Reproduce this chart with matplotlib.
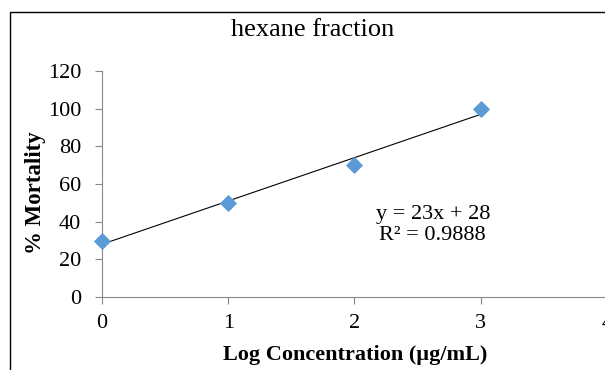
import matplotlib.pyplot as plt
from matplotlib.patches import Rectangle
import numpy as np

# data
log_conc = [0, 1, 2, 3]
mortality = [30, 50, 70, 100]
slope, intercept = 23, 28
r_squared = 0.9888

plt.rcParams['font.family'] = ['Liberation Serif', 'DejaVu Serif']

fig = plt.figure(figsize=(6.05, 3.70), dpi=100)
ax = fig.add_axes([102 / 605, 1 - 297 / 370, 505 / 605, (297 - 71) / 370])

# outer chart border (right/bottom run off the image)
fig.patches.append(Rectangle((10 / 605, -0.1), 1.2, 1 - 12 / 370 + 0.1,
                             transform=fig.transFigure, fill=False,
                             edgecolor='black', linewidth=1.0))

# trendline
xs = np.array([log_conc[0], log_conc[-1]])
ax.plot(xs, slope * xs + intercept, color='black', linewidth=0.8, zorder=2)

ax.scatter(log_conc, mortality, marker='D', s=60, color='#5B9BD5',
           edgecolor='#5B9BD5', zorder=3, clip_on=False)

ax.set_xlim(0, 4)
ax.set_ylim(0, 120)
ax.set_xticks([0, 1, 2, 3, 4])
ax.set_yticks(range(0, 121, 20))

for side in ['top', 'right']:
    ax.spines[side].set_visible(False)
for side in ['left', 'bottom']:
    ax.spines[side].set_color('#888888')
    ax.spines[side].set_linewidth(0.8)

ax.tick_params(axis='both', colors='#888888', labelcolor='black',
               labelsize=16, length=5, width=0.8, direction='out')
ax.tick_params(axis='x', pad=7)
ax.tick_params(axis='y', pad=10)

ax.set_xlabel('Log Concentration (µg/mL)', fontsize=16, fontweight='bold')
ax.set_ylabel('% Mortality', fontsize=16.5, fontweight='bold')
ax.xaxis.set_label_coords(0.501, -0.213)
ax.yaxis.set_label_coords(-0.11, 0.46)
fig.text(313 / 605, 1 - 30 / 370, 'hexane fraction', fontsize=19,
         ha='center', va='center')

ax.text(2.62, 38, 'y = 23x + 28\nR² = %.4f' % r_squared, fontsize=16,
        ha='center', va='center', linespacing=1.15)

fig.savefig('out.png', dpi=100)
